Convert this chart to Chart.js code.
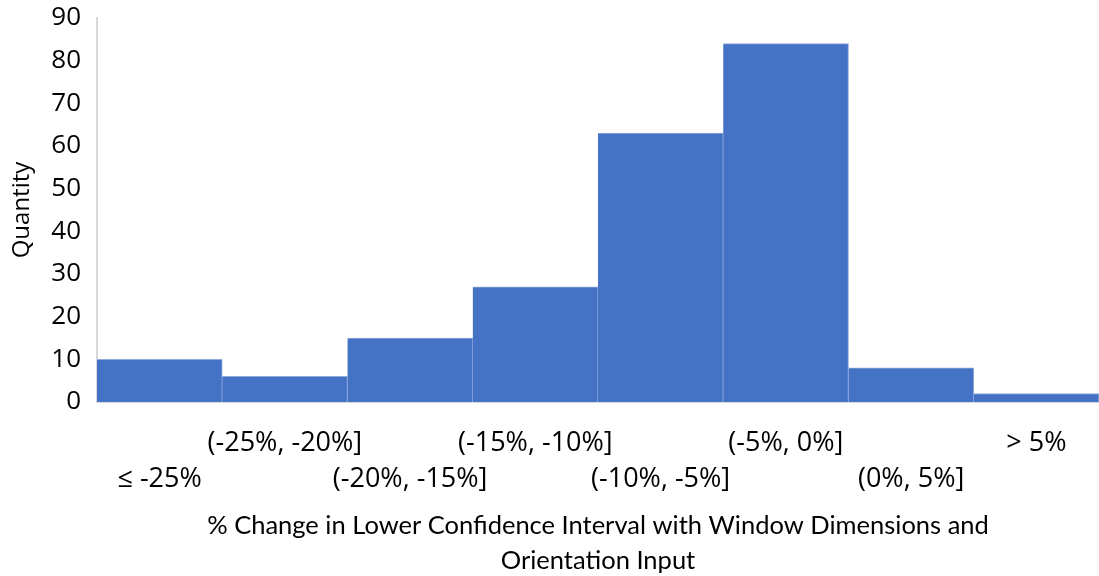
<!DOCTYPE html>
<html>
<head>
<meta charset="utf-8">
<script src="https://cdn.jsdelivr.net/npm/chart.js@4/dist/chart.umd.min.js"></script>
<style>
  html, body { margin: 0; padding: 0; background: #ffffff; overflow: hidden; }
  #wrap { width: 1099px; height: 576px; position: relative; }
</style>
</head>
<body>
<div id="wrap"><canvas id="c" width="1099" height="576"></canvas></div>
<script>
const categories = ['≤ -25%', '(-25%, -20%]', '(-20%, -15%]', '(-15%, -10%]', '(-10%, -5%]', '(-5%, 0%]', '(0%, 5%]', '> 5%'];
const quantities = [10, 6, 15, 27, 63, 84, 8, 2];
const yMin = 0;
const yMax = 90;
const yStep = 10;
const xTitle = ['% Change in Lower Confidence Interval with Window Dimensions and', 'Orientation Input'];
const yTitle = 'Quantity';

new Chart(document.getElementById('c'), {
  type: 'bar',
  data: {
    labels: categories,
    datasets: [{
      data: quantities,
      backgroundColor: '#4472c4',
      borderColor: '#8faadc',
      borderWidth: { left: 0, right: 1, top: 1, bottom: 0 },
      borderSkipped: false,
      barPercentage: 1.0,
      categoryPercentage: 1.0
    }]
  },
  options: {
    responsive: false,
    animation: false,
    devicePixelRatio: 1,
    layout: { padding: 0 },
    plugins: { legend: { display: false }, tooltip: { enabled: false } },
    scales: {
      x: {
        grid: { display: false, drawTicks: false },
        border: { display: true, color: '#d9d9d9', width: 2 },
        afterFit: function(scale) { scale.height = 174; scale.paddingLeft = 0; scale.paddingRight = 0; },
        ticks: {
          autoSkip: false,
          maxRotation: 0,
          minRotation: 0,
          padding: 23,
          color: '#000',
          font: { family: 'Open Sans', size: 27, lineHeight: 1.333 },
          callback: function(value, index) {
            const t = categories[index];
            return index % 2 === 1 ? [t, ''] : ['', t];
          }
        },
        title: {
          display: true,
          text: xTitle,
          color: '#000',
          font: { family: 'Lato', size: 25.5, lineHeight: 1.373 },
          padding: { top: 0, bottom: -2 }
        }
      },
      y: {
        min: yMin,
        max: yMax,
        grid: { display: false, drawTicks: false },
        border: { display: true, color: '#d9d9d9', width: 2 },
        afterFit: function(scale) { scale.width = 97; scale.paddingTop = 18; scale.paddingBottom = 0; },
        ticks: {
          stepSize: yStep,
          padding: 16,
          color: '#000',
          font: { family: 'Open Sans', size: 26 }
        },
        title: {
          display: true,
          text: yTitle,
          color: '#000',
          font: { family: 'Open Sans', size: 24 },
          padding: { top: 8, bottom: 0 }
        }
      }
    }
  }
});
</script>
</body>
</html>
